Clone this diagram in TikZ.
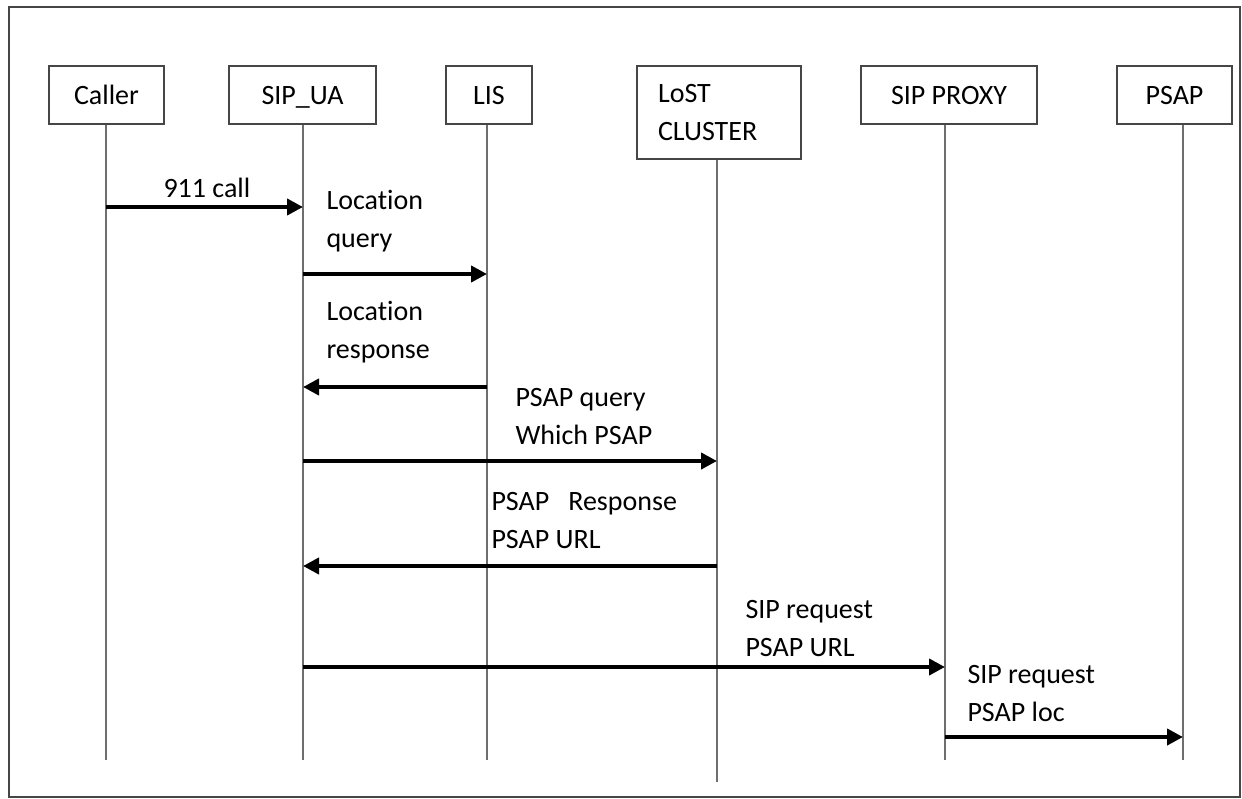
\documentclass[tikz,border=0pt]{standalone}
\usepackage{fontspec}
\setmainfont{Carlito}[Ligatures={NoCommon}]
\usetikzlibrary{arrows.meta}
\tikzset{every picture/.style={line width=0.75pt}}
\definecolor{boxline}{RGB}{70,70,70}
\definecolor{lifegray}{RGB}{110,110,110}
\tikzset{
	box/.style={draw=boxline, line width=1.5pt, minimum height=43.5pt, inner sep=0pt, font=\fontsize{21}{28}\selectfont},
	actor/.style={box, text height=18pt, text depth=4pt},
	lifeline/.style={draw=lifegray, line width=1.5pt},
	msg/.style={line width=3pt, -{Triangle[length=12pt,width=12pt]}},
	msgtext/.style={anchor=base west, align=left, inner sep=0pt, font=\fontsize{21}{28}\selectfont}
}

\begin{document}
\begin{tikzpicture}[x=0.75pt,y=0.75pt,yscale=-1,xscale=1]
	\useasboundingbox (0,0) rectangle (1242,799);
	
	%Shape: Rectangle [frame]
	\draw [draw=boxline, line width=1.5pt] (9,7) rectangle (1240,797);
	
	%Shape: Rectangle [actors]
	\node [actor, minimum width=86.25pt] (caller) at (106.5,95) {Caller};
	\node [actor, minimum width=110.25pt] (ua) at (302.5,95) {SIP\_UA};
	\node [actor, minimum width=64.5pt] (lis) at (489,95) {LIS};
	\node [box, minimum width=123pt, minimum height=69.75pt, align=left, text width=91.5pt, inner xsep=15.75pt] (lost) at (719,112.5) {LoST\\CLUSTER};
	\node [actor, minimum width=132pt] (proxy) at (949,95) {SIP PROXY};
	\node [actor, minimum width=86.25pt] (psap) at (1174.5,95) {PSAP};
	
	%Lifeline ends
	\coordinate (callerEnd) at (106,760);
	\coordinate (uaEnd) at (303,760);
	\coordinate (lisEnd) at (487,760);
	\coordinate (lostEnd) at (717,782);
	\coordinate (proxyEnd) at (945,760);
	\coordinate (psapEnd) at (1183,760);
	
	%Straight Lines [lifelines]
	\draw [lifeline] (caller.south -| callerEnd) -- (callerEnd) ;
	\draw [lifeline] (ua.south -| uaEnd) -- (uaEnd) ;
	\draw [lifeline] (lis.south -| lisEnd) -- (lisEnd) ;
	\draw [lifeline] (lost.south -| lostEnd) -- (lostEnd) ;
	\draw [lifeline] (proxy.south -| proxyEnd) -- (proxyEnd) ;
	\draw [lifeline] (psap.south -| psapEnd) -- (psapEnd) ;
	
	%Message heights
	\coordinate (m1) at (0,207);
	\coordinate (m2) at (0,274);
	\coordinate (m3) at (0,387);
	\coordinate (m4) at (0,461);
	\coordinate (m5) at (0,566);
	\coordinate (m6) at (0,667);
	\coordinate (m7) at (0,737);
	
	%Straight Lines [messages]
	\draw [msg] (callerEnd |- m1) -- (uaEnd |- m1) ;
	\draw [msg] (uaEnd |- m2) -- (lisEnd |- m2) ;
	\draw [msg] (lisEnd |- m3) -- (uaEnd |- m3) ;
	\draw [msg] (uaEnd |- m4) -- (lostEnd |- m4) ;
	\draw [msg] (lostEnd |- m5) -- (uaEnd |- m5) ;
	\draw [msg] (uaEnd |- m6) -- (proxyEnd |- m6) ;
	\draw [msg] (proxyEnd |- m7) -- (psapEnd |- m7) ;
	
	% Text Node
	\node [msgtext] (call) at (163,197) {911 call};
	% Text Node
	\node [msgtext] (locq) at (326,247) {Location\\query};
	% Text Node
	\node [msgtext] (locr) at (326,358) {Location\\response};
	% Text Node
	\node [msgtext] (psapq) at (515,444) {PSAP query\\Which PSAP};
	% Text Node
	\node [msgtext] (psapr) at (491,548) {PSAP\ \ \ Response\\PSAP URL};
	% Text Node
	\node [msgtext] (sipq) at (745,656) {SIP request\\PSAP URL};
	% Text Node
	\node [msgtext] (sipl) at (967,721) {SIP request\\PSAP loc};
	
\end{tikzpicture}
\end{document}
